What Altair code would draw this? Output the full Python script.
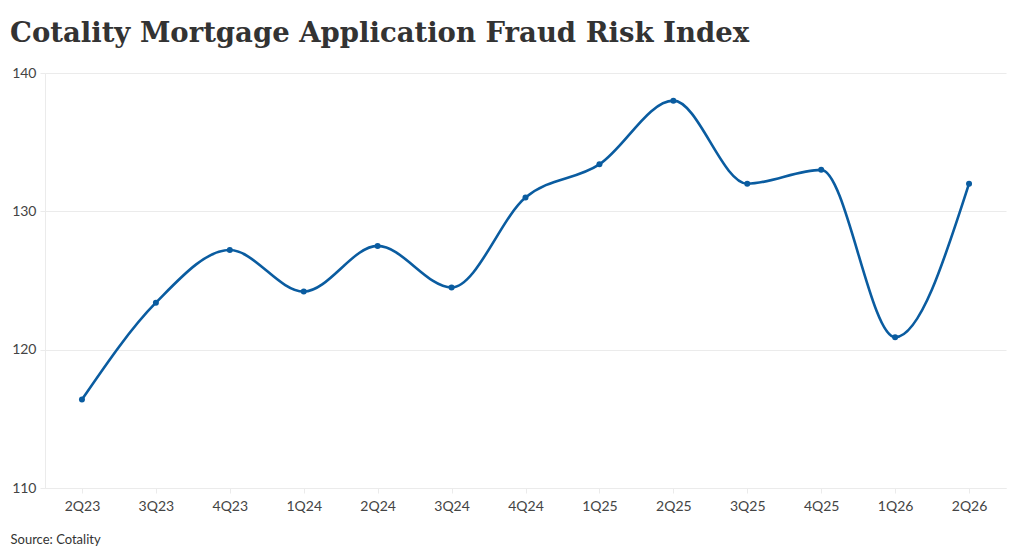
import altair as alt
import pandas as pd

quarters = ["2Q23", "3Q23", "4Q23", "1Q24", "2Q24", "3Q24", "4Q24",
            "1Q25", "2Q25", "3Q25", "4Q25", "1Q26", "2Q26"]
index_values = [116.4, 123.4, 127.2, 124.2, 127.5, 124.5, 131.0,
                133.4, 138.0, 132.0, 133.0, 120.9, 132.0]

df = pd.DataFrame({"quarter": quarters, "value": index_values})

color = "#0a5ca0"
grid = "#ebebeb"

x = alt.X("quarter:N", sort=quarters,
          scale=alt.Scale(type="point", padding=0.5),
          axis=alt.Axis(title="Source: Cotality", titleAnchor="start", titleAlign="left",
                        titleBaseline="alphabetic",
                        titleX=-35, titleY=55, titleFont="Lato", titleFontSize=13,
                        titleFontWeight="normal", titleColor="#333333",
                        labelFont="Lato", labelFontSize=14, labelColor="#444444",
                        labelPadding=6, tickColor=grid, tickSize=5,
                        domainColor=grid, grid=False, labelAngle=0))
y = alt.Y("value:Q", scale=alt.Scale(domain=[110, 140], nice=False, zero=False),
          axis=alt.Axis(title=None, values=[110, 120, 130, 140],
                        labelFont="Lato", labelFontSize=14, labelColor="#444444",
                        labelPadding=4, tickColor=grid, tickSize=5,
                        domainColor=grid, gridColor=grid))

line = alt.Chart(df).mark_line(interpolate="monotone", color=color, strokeWidth=2.6).encode(x=x, y=y)
pts = alt.Chart(df).mark_point(filled=True, color=color, size=36, opacity=1).encode(x=x, y=y)

chart = (line + pts).properties(
    width=961, height=415,
    autosize=alt.AutoSizeParams(type="none"),
    padding={"left": 37, "top": 65, "right": 6, "bottom": 66},
    title=alt.TitleParams("Cotality Mortgage Application Fraud Risk Index",
                          anchor="start", frame="group", dx=-35, offset=19,
                          font="DejaVu Serif", fontSize=27.5, fontWeight="bold",
                          color="#333333"),
).configure_view(stroke=None)

chart.save("out.html", embed_options={"renderer": "svg", "actions": False})
